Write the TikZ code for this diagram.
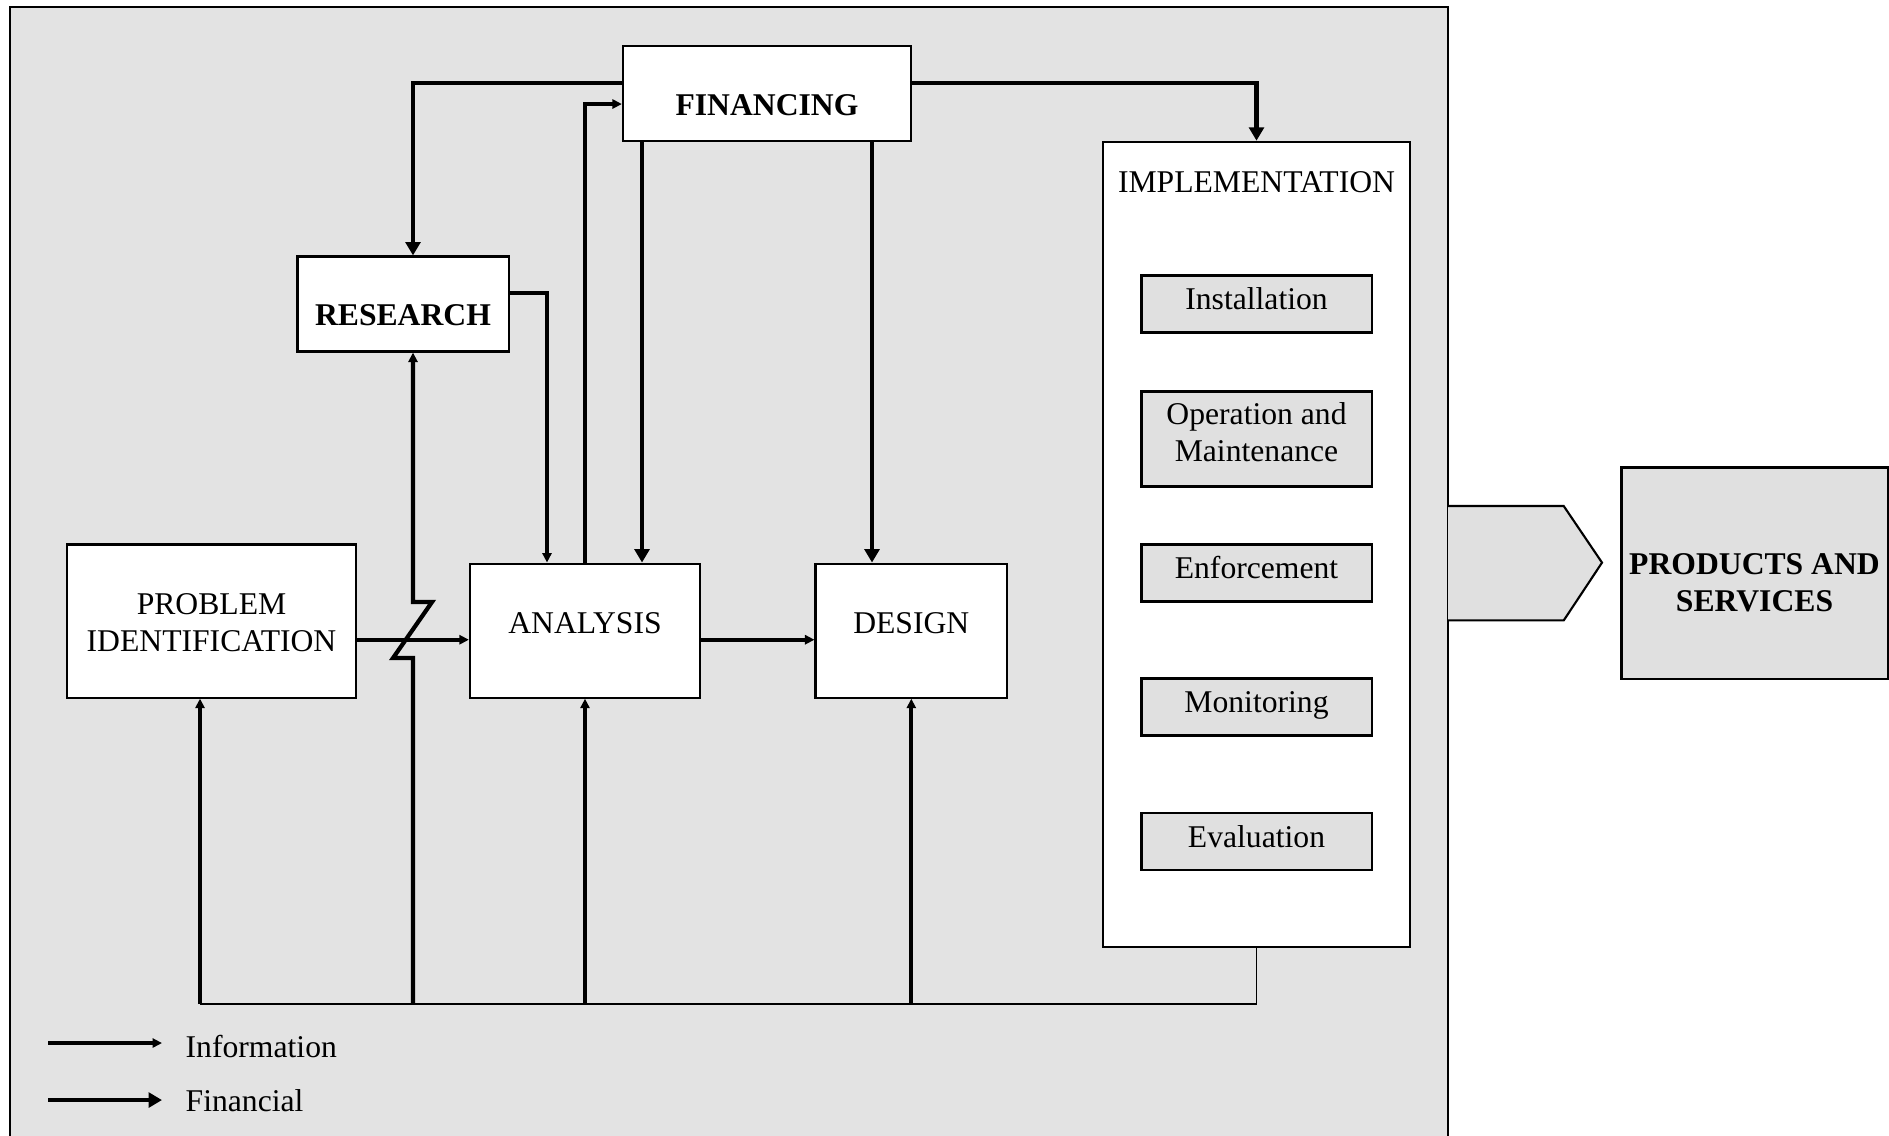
\documentclass[tikz,border=0pt]{standalone}
\usepackage{fontspec}
\setmainfont{Liberation Serif}
\usetikzlibrary{arrows.meta}
\definecolor{panelgray}{RGB}{227,227,227}
\definecolor{boxgray}{RGB}{224,224,224}
\newcommand\labelfont{\fontsize{9}{10.5}\selectfont}
\tikzset{
	box/.style={draw,line width=0.6pt,fill=white,align=center,inner sep=0pt},
	subbox/.style={draw,line width=0.6pt,fill=boxgray,align=center,inner sep=0pt,minimum width=2.3cm,minimum height=0.57cm,text height=6.2pt,text depth=3pt},
	info/.style={line width=1.2pt,-{Triangle[length=2.7pt,width=2.6pt]}},
	fin/.style={line width=1.4pt,-{Triangle[length=3.8pt,width=4.2pt]}},
	bus/.style={line width=0.7pt}
}
\begin{document}
\begin{tikzpicture}[x=0.01cm,y=-0.01cm,font=\labelfont]
	\useasboundingbox (0,0) rectangle (1889,1135);
	\fill[panelgray] (9.6,7.2) rectangle (1448,1140);
	\draw[line width=0.6pt] (9.6,1140) to (9.6,7.2) to (1448,7.2) to (1448,1140);
	\node[box,font=\labelfont\bfseries,minimum width=2.88cm,minimum height=0.95cm,text height=12.5pt,text depth=0pt](fin) at (767,93.5){FINANCING};
	\node[box,font=\labelfont\bfseries,minimum width=2.11cm,minimum height=0.95cm,text height=12.5pt,text depth=0pt](res) at (403,304){RESEARCH};
	\node[box,minimum width=2.88cm,minimum height=1.53cm,label={[align=center,yshift=-0.5pt]center:PROBLEM\\IDENTIFICATION}](prob) at (211.5,621){};
	\node[box,minimum width=2.30cm,minimum height=1.34cm,text height=6pt,text depth=4.4pt](ana) at (585,630.6){ANALYSIS};
	\node[box,minimum width=1.915cm,minimum height=1.34cm,text height=6pt,text depth=4.4pt](des) at (911.3,630.6){DESIGN};
	\node[box,minimum width=3.07cm,minimum height=8.05cm,label={[anchor=north,inner sep=0pt,yshift=-0.305cm]north:IMPLEMENTATION}](impl) at (1256.5,544.5){};
	\node[subbox](inst) at (1256.5,304){Installation};
	\node[subbox,minimum height=0.95cm,label={[align=center,yshift=2pt]center:Operation and\\Maintenance}](oper) at (1256.5,439){};
	\node[subbox](enf) at (1256.5,573){Enforcement};
	\node[subbox](mon) at (1256.5,707){Monitoring};
	\node[subbox](eval) at (1256.5,841.5){Evaluation};
	\draw[line width=0.6pt,fill=boxgray] (1448,506) to (1563.7,506) to (1602,562.6) to (1563.7,620.4) to (1448,620.4);
	\node[box,fill=boxgray,minimum width=2.66cm,minimum height=2.11cm,label={[align=center,font=\labelfont\bfseries,yshift=-2.7pt]center:PRODUCTS AND\\SERVICES}](prod) at (1754.5,573){};
	\draw[fin] ([yshift=1.05mm]fin.west) -| (res.north -| 413,0);
	\draw[fin] ([yshift=1.05mm]fin.east) -| (impl.north);
	\draw[info] (ana.north) |- ([yshift=-1.05mm]fin.west);
	\draw[fin] (fin.south -| 642,0) to (ana.north -| 642,0);
	\draw[fin] (fin.south -| 872,0) to (des.north -| 872,0);
	\draw[info] ([yshift=1.13mm]res.east) -| (ana.north -| 547,0);
	\draw[info] (prob.east |- 0,639.7) to (ana.west |- 0,639.7);
	\draw[info] (ana.east |- 0,639.7) to (des.west |- 0,639.7);
	\coordinate (busL) at (200,1004);
	\draw[bus] (busL) to (busL -| impl.south);
	\draw[line width=0.4pt] (busL -| impl.south) to (impl.south);
	\draw[info] (busL) to (prob.south -| busL);
	\draw[info] (busL -| 413,0) to (413,658) to (393,658) to (432,602) to (413,602) to (res.south -| 413,0);
	\draw[info] (busL -| ana.south) to (ana.south);
	\draw[info] (busL -| des.south) to (des.south);
	\coordinate (infoA) at (48,1043);
	\coordinate (finA) at (48,1100);
	\node[anchor=west,inner sep=0pt](infotxt) at (185,1046){Information};
	\node[anchor=west,inner sep=0pt](fintxt) at (185,1101){Financial};
	\draw[info] (infoA) to (infoA -| 162,0);
	\draw[fin] (finA) to (finA -| 162,0);
\end{tikzpicture}
\end{document}
